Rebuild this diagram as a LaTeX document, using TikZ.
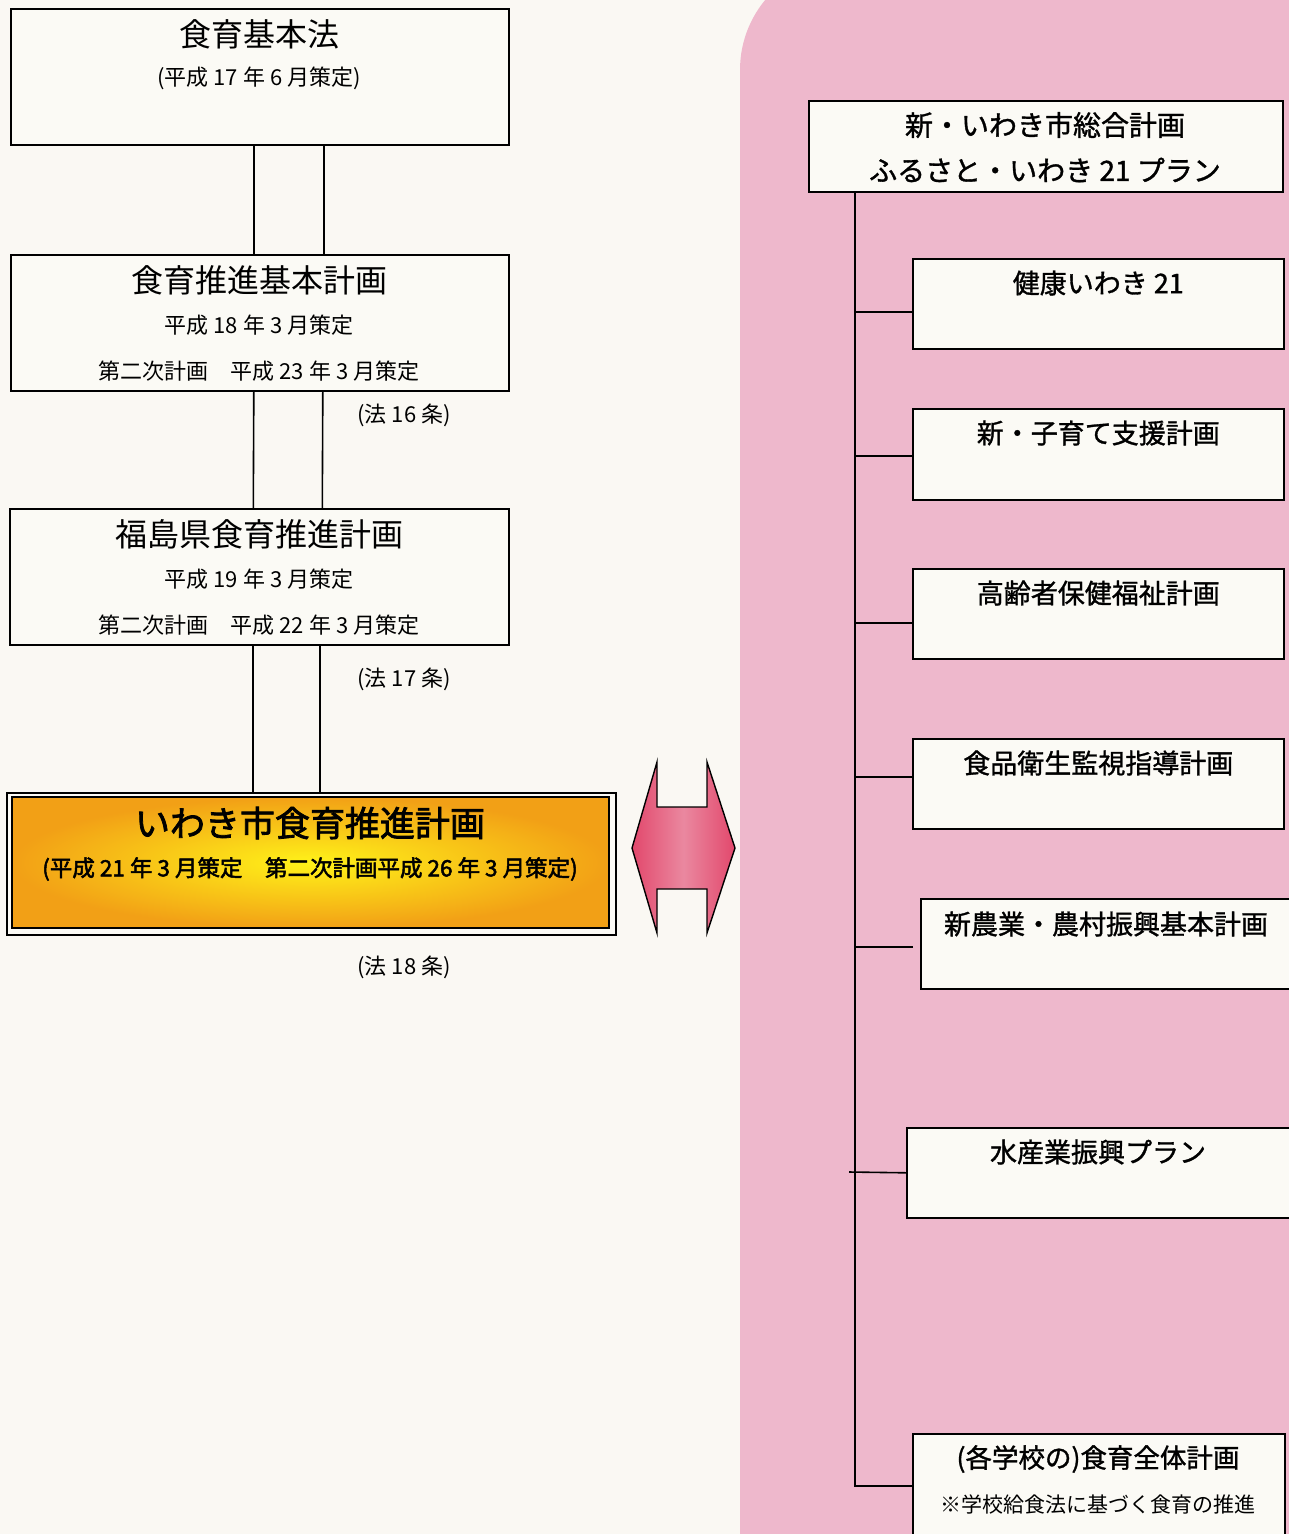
\documentclass[tikz,border=0pt]{standalone}
\usepackage{fontspec}
\setmainfont{Noto Sans CJK JP}
\newfontfamily\jpmed[FakeBold=1.2]{Noto Sans CJK JP}
\newfontfamily\jpbold[FakeBold=2.2]{Noto Sans CJK JP}
\definecolor{bg}{RGB}{250,248,243}
\definecolor{pinkbg}{RGB}{238,184,204}
\definecolor{boxfill}{RGB}{251,250,245}
\definecolor{orangeY}{RGB}{242,160,22}
\definecolor{yellowY}{RGB}{255,242,25}
\definecolor{arrowred}{RGB}{226,72,108}
\definecolor{arrowpink}{RGB}{234,136,160}
\begin{document}
\begin{tikzpicture}[x=1pt,y=-1pt,
  box/.style={draw=black, line width=1.6pt, fill=boxfill, rectangle, inner sep=0pt, anchor=north west},
  ttl/.style={font=\fontsize{32}{32}\selectfont, inner sep=0pt},
  sub/.style={font=\fontsize{22}{22}\selectfont, inner sep=0pt},
  rtl/.style={font=\fontsize{27}{27}\selectfont\jpmed, inner sep=0pt},
  link/.style={line width=1.6pt, draw=black}]
\useasboundingbox (0,0) rectangle (1289,1534);
\clip (0,0) rectangle (1289,1534);
\fill[bg] (0,0) rectangle (1289,1534);
% pink region
\fill[pinkbg, rounded corners=110pt] (740,-40) rectangle (1400,1800);

% left column
\node[box, minimum width=498pt, minimum height=136pt] (b1) at (10,8) {};
\node[ttl] (b1t) at (259,34) {食育基本法};
\node[sub] (b1s) at (259,78) {(平成 17 年 6 月策定)};

\node[box, minimum width=498pt, minimum height=136pt] (b2) at (10,254) {};
\node[ttl] (b2t) at (259,280) {食育推進基本計画};
\node[sub] (b2s) at (259,325) {平成 18 年 3 月策定};
\node[sub] (b2u) at (259,371) {第二次計画　平成 23 年 3 月策定};
\node[sub] (l16) at (404,415) {(法 16 条)};

\node[box, minimum width=499pt, minimum height=136pt] (b3) at (9,508) {};
\node[ttl] (b3t) at (259,534) {福島県食育推進計画};
\node[sub] (b3s) at (259,579) {平成 19 年 3 月策定};
\node[sub] (b3u) at (259,625) {第二次計画　平成 22 年 3 月策定};
\node[sub] (l17) at (404,679) {(法 17 条)};

% yellow box
\node[box, line width=1.8pt, minimum width=609pt, minimum height=142pt] (city) at (6,792) {};
\path[draw=black, line width=1.5pt, inner color=yellowY, outer color=orangeY] (12,797) rectangle (609,928);
\node[font=\fontsize{35}{35}\selectfont\jpbold, inner sep=0pt] (cityt) at (310,823) {いわき市食育推進計画};
\node[font=\fontsize{22.5}{22.5}\selectfont\jpbold, inner sep=0pt] (citys) at (310,869) {(平成 21 年 3 月策定　第二次計画平成 26 年 3 月策定)};
\node[sub] (l18) at (404,967) {(法 18 条)};

% left connectors
\draw[link] ([xshift=-6pt]b1.south) -- ([xshift=-6pt]b2.north);
\draw[link] ([xshift=64pt]b1.south) -- ([xshift=64pt]b2.north);
\draw[link] ([xshift=-6pt]b2.south) -- ([xshift=-6pt]b3.north);
\draw[link] ([xshift=63pt]b2.south) -- ([xshift=63pt]b3.north);
\coordinate (c1) at ([xshift=-6.5pt]b3.south);
\coordinate (c2) at ([xshift=60.5pt]b3.south);
\draw[link] (c1) -- (c1 |- city.north);
\draw[link] (c2) -- (c2 |- city.north);

% double arrow
\path[draw=black, line width=1.4pt, left color=arrowred, right color=arrowred, middle color=arrowpink]
  (632,848) -- (657,762) -- (657,807) -- (707,807) -- (707,762) -- (735,848)
  -- (707,933) -- (707,889) -- (657,889) -- (657,933) -- cycle;

% right column
\node[box, minimum width=474pt, minimum height=91pt] (top) at (808,100) {};
\node[rtl, font=\fontsize{28}{28}\selectfont\jpmed] (topa) at (1045,125) {新・いわき市総合計画};
\node[rtl, font=\fontsize{28}{28}\selectfont\jpmed] (topb) at (1045,170) {ふるさと・いわき 21 プラン};

\node[box, minimum width=371pt, minimum height=90pt] (k1) at (912,258) {};
\node[rtl] (k1t) at ([yshift=-25pt]k1.north) {健康いわき 21};
\node[box, minimum width=371pt, minimum height=91pt] (k2) at (912,408) {};
\node[rtl] (k2t) at ([yshift=-25pt]k2.north) {新・子育て支援計画};
\node[box, minimum width=371pt, minimum height=90pt] (k3) at (912,568) {};
\node[rtl] (k3t) at ([yshift=-25pt]k3.north) {高齢者保健福祉計画};
\node[box, minimum width=371pt, minimum height=90pt] (k4) at (912,738) {};
\node[rtl] (k4t) at ([yshift=-25pt]k4.north) {食品衛生監視指導計画};
\node[box, minimum width=380pt, minimum height=90pt] (k5) at (920,898) {};
\node[rtl] (k5t) at (1106,924) {新農業・農村振興基本計画};
\node[box, minimum width=394pt, minimum height=90pt] (k6) at (906,1127) {};
\node[rtl] (k6t) at (1098,1152) {水産業振興プラン};
\node[box, minimum width=372pt, minimum height=140pt] (k7) at (912,1433) {};
\node[rtl, font=\fontsize{26.5}{26.5}\selectfont\jpmed] (k7t) at (1098,1459) {(各学校の)食育全体計画};
\node[sub, font=\fontsize{21}{21}\selectfont] (k7s) at (1098,1504) {※学校給食法に基づく食育の推進};

% trunk and branches
\coordinate (trunktop) at (855,191);
\coordinate (trunkbot) at (855,1486);
\coordinate (k1p) at ([yshift=-8pt]k1.west);
\coordinate (k2p) at ([yshift=-1.5pt]k2.west);
\coordinate (k3p) at ([yshift=-9pt]k3.west);
\coordinate (k4p) at ([yshift=7pt]k4.west);
\coordinate (k5p) at ([xshift=-7pt,yshift=-3pt]k5.west);
\coordinate (k6p) at (k6.west);
\coordinate (k6q) at (849,1172);
\coordinate (k7p) at (912,1486);
\draw[link] (trunktop) -- (trunkbot) -- (k7p);
\draw[link] (k1p) -- (trunktop |- k1p);
\draw[link] (k2p) -- (trunktop |- k2p);
\draw[link] (k3p) -- (trunktop |- k3p);
\draw[link] (k4p) -- (trunktop |- k4p);
\draw[link] (k5p) -- (trunktop |- k5p);
\draw[link] (k6p) -- (k6q);
\end{tikzpicture}
\end{document}
